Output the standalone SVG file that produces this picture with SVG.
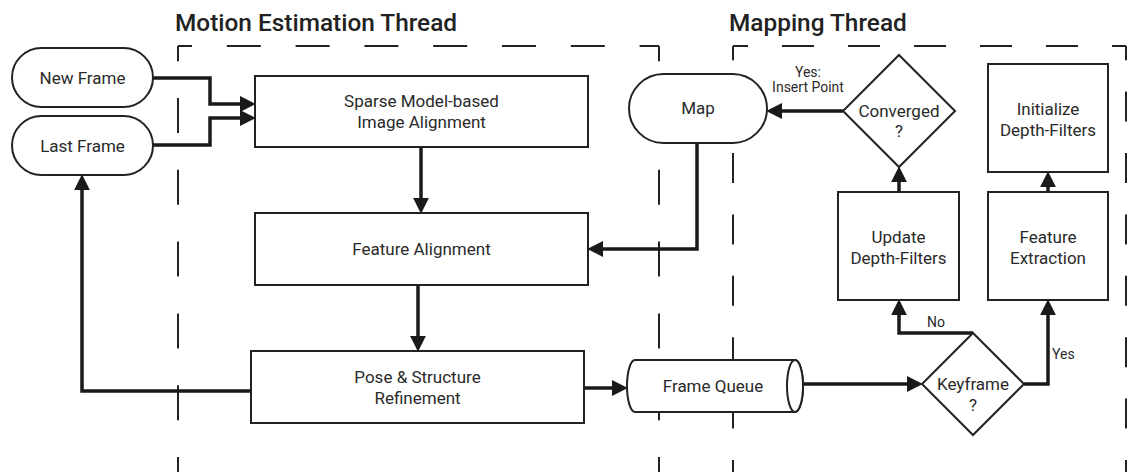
<svg xmlns="http://www.w3.org/2000/svg" width="1127" height="472" viewBox="0 0 1127 472">
<style>
  .title { font-family: Roboto, "Liberation Sans", sans-serif; font-weight: 500; font-size: 24.4px; fill: #222; }
  .lbl { font-family: Roboto, "Liberation Sans", sans-serif; font-size: 17px; fill: #2a2a2a; text-anchor: middle; }
  .small { font-family: Roboto, "Liberation Sans", sans-serif; font-size: 14px; fill: #2a2a2a; text-anchor: middle; }
  .node { fill: #fff; stroke: #222; stroke-width: 2; }
  .conn { fill: none; stroke: #1a1a1a; stroke-width: 3.5; marker-end: url(#arrow); }
  .dash1 { fill: none; stroke: #222; stroke-width: 2; }
</style>
<defs>
  <marker id="arrow" markerUnits="userSpaceOnUse" markerWidth="16" markerHeight="16" viewBox="0 0 15 15" refX="3" refY="7.5" orient="auto">
    <path d="M0,0 L15,7.5 L0,15 Z" fill="#1a1a1a"/>
  </marker>
</defs>
<rect width="1127" height="472" fill="#fff"/>

<g id="thread-boxes">
  <text class="title" x="175" y="31">Motion Estimation Thread</text>
  <text class="title" x="729" y="31">Mapping Thread</text>
  <line class="dash1" x1="178" y1="46" x2="659" y2="46" stroke-dasharray="34 34.8" stroke-dashoffset="20"/>
  <line class="dash1" x1="178" y1="46" x2="178" y2="472" stroke-dasharray="35 36.8" stroke-dashoffset="19.8"/>
  <line class="dash1" x1="659" y1="46" x2="659" y2="472" stroke-dasharray="35 36.8" stroke-dashoffset="19.8"/>
  <line class="dash1" x1="733" y1="46" x2="1126" y2="46" stroke-dasharray="32 34" stroke-dashoffset="17"/>
  <line class="dash1" x1="733" y1="46" x2="733" y2="472" stroke-dasharray="30 31.4" stroke-dashoffset="15.8"/>
  <line class="dash1" x1="1126" y1="46" x2="1126" y2="472" stroke-dasharray="30 31.4" stroke-dashoffset="15.8"/>
</g>

<g id="connectors">
  <path class="conn" d="M153,78 H210 V104 H243"/>
  <path class="conn" d="M153,145 H210 V118 H243"/>
  <path class="conn" d="M251,391 H82 V187"/>
  <path class="conn" d="M421,147 V201"/>
  <path class="conn" d="M418,285 V339"/>
  <path class="conn" d="M697,143 V249 H600"/>
  <path class="conn" d="M584,388 H615"/>
  <path class="conn" d="M796,384 H910"/>
  <path class="conn" d="M973,333 H899 V312"/>
  <path class="conn" d="M1024,384 H1048 V312"/>
  <path class="conn" d="M899,192 V179"/>
  <path class="conn" d="M1048,192 V184"/>
  <path class="conn" d="M843,111 H779"/>
  <text class="small" x="808" y="77">Yes:</text>
  <text class="small" x="808" y="92">Insert Point</text>
  <text class="small" x="936" y="327">No</text>
  <text class="small" x="1052" y="359" style="text-anchor:start">Yes</text>
</g>

<g id="new-frame">
  <rect class="node" x="12" y="48" width="141" height="59" rx="29.5" ry="29.5"/>
  <text class="lbl" x="82.5" y="84">New Frame</text>
</g>
<g id="last-frame">
  <rect class="node" x="12" y="116" width="141" height="59" rx="29.5" ry="29.5"/>
  <text class="lbl" x="82.5" y="152">Last Frame</text>
</g>
<g id="sparse-alignment">
  <rect class="node" x="255" y="76" width="333" height="71"/>
  <text class="lbl" x="421.5" y="107">Sparse Model-based</text>
  <text class="lbl" x="421.5" y="128">Image Alignment</text>
</g>
<g id="feature-alignment">
  <rect class="node" x="255" y="213" width="333" height="72"/>
  <text class="lbl" x="421.5" y="255">Feature Alignment</text>
</g>
<g id="pose-refinement">
  <rect class="node" x="251" y="351" width="333" height="72"/>
  <text class="lbl" x="417.5" y="383">Pose &amp; Structure</text>
  <text class="lbl" x="417.5" y="404">Refinement</text>
</g>
<g id="map">
  <rect class="node" x="629" y="74" width="138" height="69" rx="34.5" ry="34.5"/>
  <text class="lbl" x="698" y="114">Map</text>
</g>
<g id="frame-queue">
  <path class="node" d="M635,360 H795 A8,26 0 0 1 795,412 H635 A8,26 0 0 1 635,360 Z"/>
  <ellipse class="node" cx="795" cy="386" rx="8" ry="26"/>
  <text class="lbl" x="713" y="392">Frame Queue</text>
</g>
<g id="keyframe">
  <path class="node" d="M973,333 L1024,384 L973,435 L922,384 Z"/>
  <text class="lbl" x="973" y="390">Keyframe</text>
  <text class="lbl" x="973" y="411">?</text>
</g>
<g id="converged">
  <path class="node" d="M899,55 L955,111 L899,167 L843,111 Z"/>
  <text class="lbl" x="899" y="117">Converged</text>
  <text class="lbl" x="899" y="137">?</text>
</g>
<g id="initialize-depth-filters">
  <rect class="node" x="988" y="64" width="120" height="108"/>
  <text class="lbl" x="1048" y="115">Initialize</text>
  <text class="lbl" x="1048" y="136">Depth-Filters</text>
</g>
<g id="update-depth-filters">
  <rect class="node" x="838" y="192" width="121" height="108"/>
  <text class="lbl" x="898.5" y="243">Update</text>
  <text class="lbl" x="898.5" y="264">Depth-Filters</text>
</g>
<g id="feature-extraction">
  <rect class="node" x="988" y="192" width="120" height="108"/>
  <text class="lbl" x="1048" y="243">Feature</text>
  <text class="lbl" x="1048" y="264">Extraction</text>
</g>
</svg>
